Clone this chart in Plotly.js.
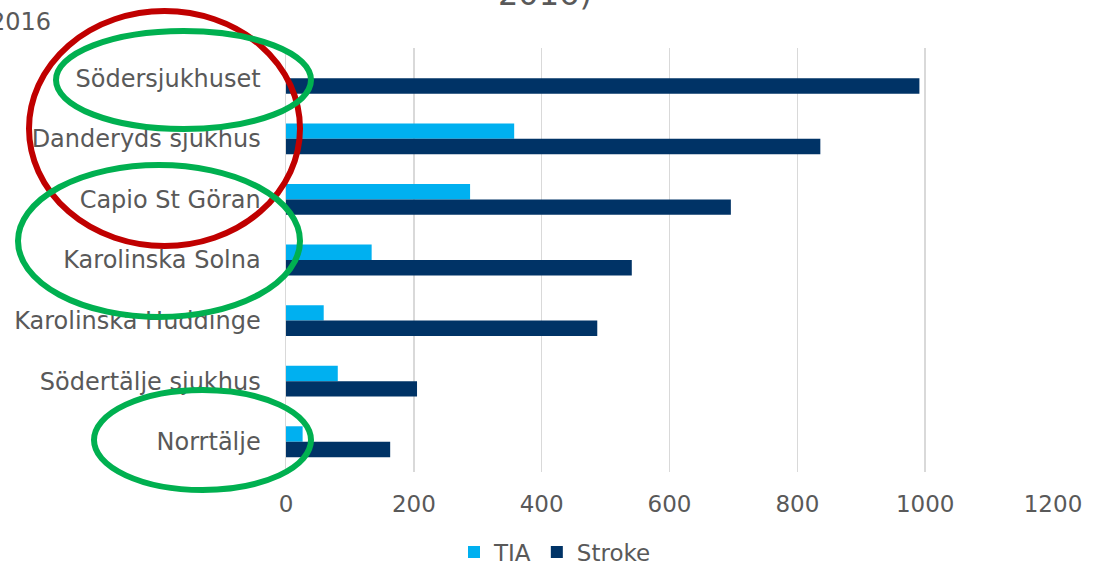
<!DOCTYPE html>
<html>
<head>
<meta charset="utf-8">
<script src="https://cdn.plot.ly/plotly-3.0.1.min.js"></script>
<style>
html,body{margin:0;padding:0;background:#fff;}
#chart{width:1099px;height:566px;}
</style>
</head>
<body>
<div id="chart"></div>
<script>
// ---- data ----
var categories = ['Södersjukhuset','Danderyds sjukhus','Capio St Göran','Karolinska Solna','Karolinska Huddinge','Södertälje sjukhus','Norrtälje'];
var tiaValues = [0, 357, 288, 134, 59, 81, 26];
var strokeValues = [991, 836, 696, 541, 487, 205, 163];
var seriesNames = ['TIA', 'Stroke'];
var xTicks = [0, 200, 400, 600, 800, 1000, 1200];

// ---- layout geometry (pixels) ----
var W = 1099, H = 566;
var plotL = 286, plotR = 1053, plotT = 48, plotB = 472;
function px(x){ return (x - plotL) / (plotR - plotL); }
function py(y){ return (plotB - y) / (plotB - plotT); }
function ellipse(x0, x1, y0, y1, color){
  return {type:'circle', xref:'paper', yref:'paper', layer:'above',
    x0:px(x0), x1:px(x1), y0:py(y1), y1:py(y0),
    line:{color:color, width:6}, fillcolor:'rgba(0,0,0,0)'};
}

var font = 'DejaVu Sans, Verdana, sans-serif';
var grey = '#595959';

var traces = [
  {type:'bar', orientation:'h', name:seriesNames[0], y:categories, x:tiaValues,
   marker:{color:'#00B0F0'}},
  {type:'bar', orientation:'h', name:seriesNames[1], y:categories, x:strokeValues,
   marker:{color:'#003366'}}
];

var layout = {
  width:W, height:H,
  margin:{l:plotL, r:W-plotR, t:plotT, b:H-plotB, pad:0, autoexpand:false},
  paper_bgcolor:'#fff', plot_bgcolor:'#fff',
  barmode:'group', bargap:0.49, bargroupgap:0,
  showlegend:true,
  legend:{orientation:'h', x:px(555), xanchor:'center', y:py(552), yanchor:'middle',
    font:{family:font, size:23, color:grey}, itemwidth:30, traceorder:'normal'},
  xaxis:{range:[0,1200], tickvals:xTicks, ticktext:xTicks.map(String),
    showgrid:true, gridcolor:'#D9D9D9', gridwidth:1.5, zeroline:false,
    showline:false, ticks:'', ticklabelstandoff:16,
    tickfont:{family:font, size:23, color:grey}, fixedrange:true},
  yaxis:{type:'category', autorange:'reversed', showgrid:false, zeroline:false,
    showline:true, linecolor:'#D9D9D9', linewidth:1.5, ticks:'',
    ticklabelstandoff:19,
    tickfont:{family:font, size:24, color:grey}, fixedrange:true},
  annotations:[
    {text:'2016)', xref:'paper', yref:'paper', x:px(545), y:py(15), xanchor:'center', yanchor:'bottom',
     showarrow:false, font:{family:font, size:32, color:grey}},
    {text:'2016', xref:'paper', yref:'paper', x:px(53), y:py(22), xanchor:'right', yanchor:'middle',
     showarrow:false, font:{family:font, size:24, color:grey}}
  ],
  shapes:[
    ellipse(29, 300, 11, 246, '#C00000'),
    ellipse(56, 311, 31, 129, '#00B050'),
    ellipse(18, 300, 165, 317, '#00B050'),
    ellipse(94, 311, 390, 490, '#00B050')
  ]
};

Plotly.newPlot('chart', traces, layout, {displayModeBar:false, staticPlot:true});
</script>
</body>
</html>
